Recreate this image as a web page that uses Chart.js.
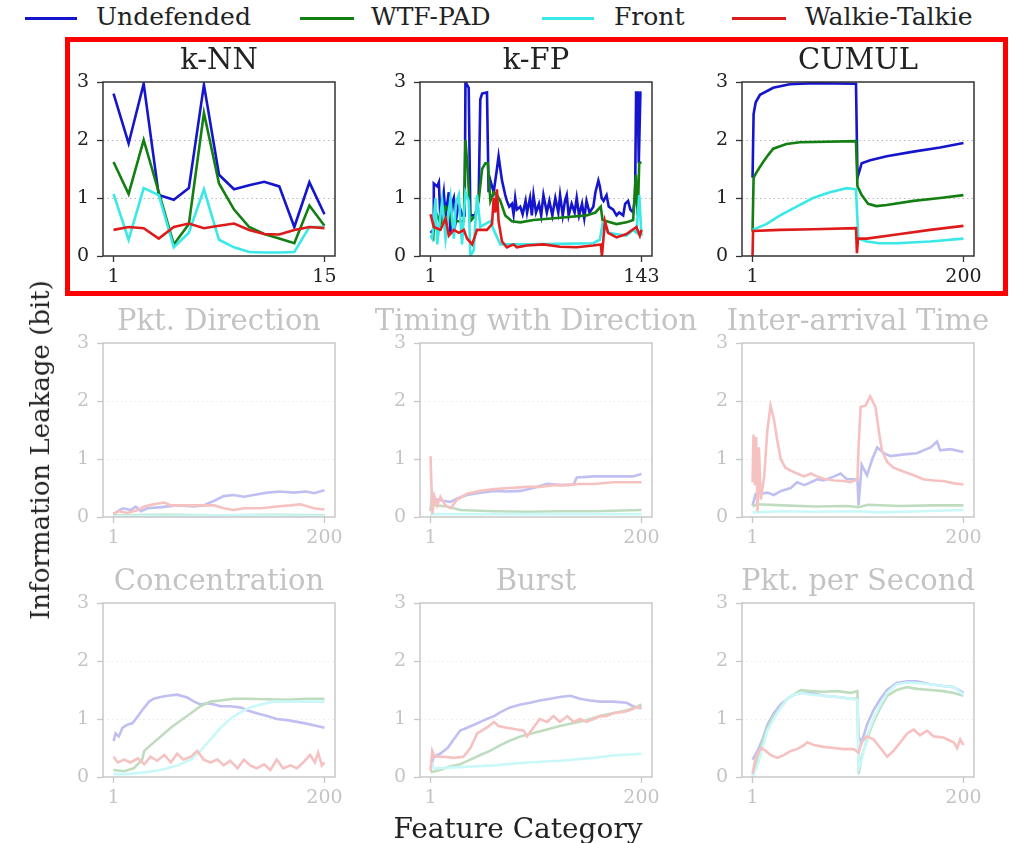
<!DOCTYPE html>
<html>
<head>
<meta charset="utf-8">
<script src="https://cdn.jsdelivr.net/npm/chart.js@4.4.1/dist/chart.umd.min.js"></script>
<style>
  body { margin: 0; background: #fff; }
  #fig { position: relative; width: 1015px; height: 843px; overflow: hidden; font-family: "DejaVu Serif", serif; color: #222; }
  .panel { position: absolute; }
  .faded { opacity: 0.27; }
  .leg { position: absolute; top: 3px; font-size: 25px; line-height: 28px; white-space: nowrap; }
  .legline { position: absolute; top: 17px; height: 3px; }
  #ylabel { position: absolute; left: 40px; top: 450px; font-size: 26px; white-space: nowrap; transform: translate(-50%, -50%) rotate(-90deg); }
  #xlabel { position: absolute; left: 518px; top: 828px; font-size: 28px; white-space: nowrap; transform: translate(-50%, -50%); }
  #frame { position: absolute; left: 65px; top: 37px; width: 933px; height: 249px; border: 5px solid #ff0000; pointer-events: none; }
</style>
</head>
<body>
<div id="fig">
  <div class="legline" style="left:25px;width:52px;background:#1515cc"></div>
  <div class="leg" style="left:96px">Undefended</div>
  <div class="legline" style="left:300px;width:54px;background:#137f13"></div>
  <div class="leg" style="left:371px">WTF-PAD</div>
  <div class="legline" style="left:542px;width:52px;background:#3be8e8"></div>
  <div class="leg" style="left:614px">Front</div>
  <div class="legline" style="left:732px;width:54px;background:#de1b1b"></div>
  <div class="leg" style="left:805px">Walkie-Talkie</div>
  <div id="ylabel">Information Leakage (bit)</div>
  <div id="xlabel">Feature Category</div>
</div>
<script>
const names = ["Undefended", "WTF-PAD", "Front", "Walkie-Talkie"];
const colors = ["#1515cc", "#137f13", "#3be8e8", "#de1b1b"];
const yTicks = [0, 1, 2, 3];

// k-NN: 15 features
const knnX = [1, 2, 3, 4, 5, 6, 7, 8, 9, 10, 11, 12, 13, 14, 15];
const knnUndef = [2.8, 1.94, 2.97, 1.05, 0.97, 1.17, 2.95, 1.4, 1.15, 1.22, 1.28, 1.2, 0.5, 1.27, 0.72];
const knnWtf = [1.62, 1.07, 2.0, 1.1, 0.2, 0.55, 2.47, 1.25, 0.8, 0.5, 0.38, 0.3, 0.22, 0.87, 0.52];
const knnFront = [1.07, 0.28, 1.17, 1.05, 0.15, 0.4, 1.15, 0.28, 0.15, 0.07, 0.06, 0.06, 0.07, 0.5, 0.5];
const knnWT = [0.45, 0.5, 0.48, 0.3, 0.5, 0.56, 0.48, 0.52, 0.56, 0.45, 0.38, 0.37, 0.45, 0.5, 0.48];

// k-FP: 143 features, [feature, bits]
const kfpUndef = [[1,0.4],[2.8,0.45],[3.2,1.25],[5.5,1.2],[6.6,1.27],[7.7,0.6],[8.8,0.9],[9.9,1.1],[11.1,0.7],[13.3,1.1],[14.4,0.4],[15.5,0.9],[16.7,1.0],[18,0.6],[20,0.9],[22.2,0.7],[24,0.7],[24.5,3.0],[25.6,2.95],[26.7,2.9],[27.8,0.7],[31.2,0.7],[33.4,1.0],[34.5,2.7],[35.7,2.8],[39,2.82],[40.1,1.1],[41.3,1.3],[42.4,1.2],[43.5,1.1],[45.7,1.5],[46.8,1.72],[48,1.5],[49.1,1.3],[51.3,1.05],[52.4,0.95],[54,0.85],[55.8,0.9],[56.9,0.72],[58,1.0],[59.1,0.8],[61.4,0.85],[63,0.72],[65,0.95],[66,0.75],[68,1.0],[69.2,0.7],[70.3,1.05],[72,0.75],[74,0.9],[75.5,0.7],[77,1.05],[79.3,0.75],[81,0.95],[83,0.7],[85,1.0],[87,0.75],[88.2,1.05],[90,0.7],[91.5,0.95],[92.7,1.05],[94,0.7],[96,0.9],[98,0.75],[99.4,1.0],[101,0.7],[103,0.9],[104.5,0.65],[106,0.95],[108,0.75],[110.6,0.85],[112,1.1],[114,1.3],[115,1.2],[116.2,1.0],[117.5,0.95],[119.5,1.05],[121,0.85],[124,0.8],[126.2,0.7],[128,0.75],[130.7,0.7],[132,0.9],[134,0.95],[135.5,0.8],[137.4,0.75],[138.7,1.0],[139.4,2.82],[140.5,2.82],[141.2,1.6],[142.3,2.82],[143,2.82]];
const kfpWtf = [[1,0.35],[2.8,0.3],[3.7,0.8],[5.5,0.7],[7.7,0.55],[9.9,0.7],[11.1,0.85],[13.3,0.8],[15.5,0.55],[18,0.6],[21.1,0.6],[23.4,0.6],[24.5,2.0],[26,1.5],[27.8,0.6],[31.2,0.7],[33.4,0.95],[35.7,1.5],[37.9,1.6],[39.5,1.6],[41.3,0.95],[43.5,1.1],[45.7,1.05],[48,0.95],[51.3,0.7],[55.8,0.6],[61.4,0.58],[70.3,0.62],[88.2,0.66],[106,0.7],[112,0.75],[115.6,0.85],[116.8,0.62],[119.5,0.6],[126.2,0.55],[132.9,0.58],[137.4,0.62],[139.2,1.4],[140.5,0.7],[141.5,1.6],[143,1.62]];
const kfpFront = [[1,0.35],[2.1,0.3],[4.4,1.0],[5.5,0.2],[8.8,0.95],[11.1,0.3],[14.4,1.0],[16.7,0.3],[18,0.9],[20,1.05],[22.2,0.2],[24.5,1.1],[26.7,0.95],[27.8,0.0],[30.1,0.1],[32.3,1.05],[34.5,0.5],[41.3,0.6],[43.5,0.45],[48,0.2],[65.8,0.2],[110.6,0.22],[115,0.28],[116.8,0.55],[120.6,0.4],[132.9,0.35],[137.4,0.45],[139.6,0.4],[141.5,1.05],[143,0.35]];
const kfpWT = [[1,0.72],[3.2,0.5],[7.7,0.45],[11.1,0.65],[13.3,0.35],[16.7,0.45],[20,0.4],[23.4,0.45],[25.6,0.3],[29,0.2],[32.3,0.45],[39,0.45],[42.4,0.55],[43.5,1.0],[44.6,0.75],[45.7,1.15],[46.8,0.6],[49.1,0.25],[52.4,0.15],[56.9,0.2],[59.1,0.15],[65.8,0.18],[77,0.2],[88.2,0.16],[99.4,0.15],[110.6,0.18],[115.6,0.2],[116.4,0.0],[118.4,0.6],[120.6,0.4],[126.2,0.32],[132.9,0.38],[139.6,0.5],[141.9,0.35],[143,0.45]];

// CUMUL: 200 features
const cumulUndef = [[1,1.35],[2,2.45],[4,2.65],[8,2.78],[20.5,2.9],[36,2.96],[58,2.98],[98.6,2.97],[100,1.35],[104,1.6],[112,1.65],[127.6,1.72],[152.8,1.8],[178,1.87],[200,1.95]];
const cumulWtf = [[1,0.42],[2,1.35],[5,1.45],[11,1.62],[15.7,1.74],[20.5,1.85],[33,1.93],[45.7,1.96],[98.6,1.98],[100,1.2],[104,1.05],[110,0.9],[118,0.86],[127.6,0.88],[152.8,0.95],[178,1.0],[200,1.05]];
const cumulFront = [[1,0.45],[14,0.55],[27,0.7],[42.6,0.85],[58,1.0],[74,1.1],[90,1.17],[98.6,1.15],[100.8,0.3],[108.7,0.25],[121,0.22],[137,0.22],[168.5,0.25],[200,0.3]];
const cumulWT = [[1,0.0],[1.5,0.43],[27,0.45],[58,0.46],[98.6,0.48],[99.5,0.05],[100.5,0.3],[108.7,0.3],[137,0.37],[168.5,0.45],[200,0.52]];

// Pkt. Direction
const pdUndef = [[1,0.05],[5,0.1],[10,0.15],[17,0.12],[22,0.18],[27,0.1],[33,0.15],[46,0.17],[61,0.2],[77,0.18],[86,0.2],[96,0.28],[105,0.36],[114,0.38],[124,0.35],[133,0.38],[146,0.42],[158,0.44],[171,0.42],[183,0.44],[190,0.41],[200,0.46]];
const pdWtf = [[1,0.03],[50,0.04],[100,0.03],[150,0.04],[200,0.03]];
const pdFront = [[1,0.02],[60,0.02],[120,0.03],[200,0.02]];
const pdWT = [[1,0.05],[6,0.1],[14,0.07],[24,0.12],[30,0.18],[39,0.22],[49,0.25],[55,0.2],[64,0.2],[77,0.2],[86,0.2],[96,0.2],[105,0.15],[114,0.12],[124,0.15],[140,0.15],[155,0.18],[168,0.2],[177,0.22],[190,0.15],[200,0.13]];

// Timing with Direction
const twdUndef = [[1,0.1],[2.6,0.3],[7,0.3],[13,0.28],[20,0.26],[26,0.32],[35.5,0.38],[48,0.42],[61,0.45],[73,0.44],[86,0.45],[98,0.5],[111,0.57],[124,0.55],[136,0.56],[139,0.68],[155,0.7],[173,0.7],[192,0.7],[200,0.74]];
const twdWtf = [[1,0.1],[2.6,0.42],[5.7,0.2],[16.7,0.18],[29,0.12],[61,0.1],[92,0.09],[124,0.1],[155,0.1],[200,0.12]];
const twdFront = [[1,0.0],[2,0.05],[100,0.05],[200,0.05]];
const twdWT = [[1,1.05],[2.6,0.05],[4.8,0.35],[7.3,0.2],[10.4,0.35],[15,0.2],[20,0.15],[26,0.3],[35.5,0.4],[48,0.45],[61,0.48],[76,0.5],[92,0.52],[104,0.52],[117,0.55],[130,0.55],[142,0.57],[155,0.57],[173,0.6],[200,0.6]];

// Inter-arrival Time
const iatUndef = [[1,0.2],[4,0.4],[9,0.4],[15,0.42],[21,0.38],[28,0.45],[37,0.5],[43,0.6],[50,0.55],[56,0.6],[62,0.65],[68,0.63],[78,0.7],[84,0.75],[90,0.65],[100,0.65],[101,0.2],[104,0.9],[109,0.72],[114,1.0],[118.6,1.2],[125,1.1],[131,1.05],[144,1.08],[156,1.1],[169,1.2],[175,1.3],[178,1.15],[187.5,1.17],[200,1.12]];
const iatWtf = [[1,0.18],[5,0.22],[30,0.2],[60,0.18],[90,0.19],[101,0.17],[110,0.21],[140,0.19],[170,0.2],[200,0.2]];
const iatFront = [[1,0.08],[30,0.1],[60,0.09],[100,0.1],[120,0.08],[160,0.1],[200,0.12]];
const iatWT = [[1,0.6],[1.9,1.42],[3.2,0.55],[4.4,1.38],[5.7,0.1],[7,1.2],[8.8,0.3],[12,0.7],[15,1.5],[18,1.92],[21,1.7],[24.5,1.3],[27.6,1.0],[32,0.85],[37,0.8],[43,0.75],[49.6,0.7],[56,0.75],[62,0.7],[68,0.66],[78,0.63],[87,0.62],[93.5,0.6],[100,0.65],[101,1.2],[103,1.9],[107.6,1.92],[112,2.08],[117,1.9],[120,1.5],[123,1.15],[128,0.95],[134,0.85],[144,0.78],[153,0.72],[162,0.65],[172,0.63],[181,0.62],[191,0.58],[200,0.56]];

// Concentration
const concUndef = [[1,0.62],[3,0.75],[6,0.7],[9.5,0.85],[14,0.9],[19,0.93],[24,1.05],[28,1.15],[34.5,1.3],[39,1.35],[45.5,1.38],[52,1.4],[61,1.42],[70.6,1.37],[77,1.3],[83,1.25],[89,1.27],[96,1.25],[102,1.22],[111,1.22],[121,1.2],[127,1.15],[136,1.1],[146,1.05],[155,1.0],[165,0.98],[174,0.95],[183,0.92],[193,0.88],[200,0.85]];
const concWtf = [[1,0.12],[11,0.1],[20,0.15],[28,0.3],[30,0.45],[36,0.55],[45.5,0.7],[55,0.85],[64,0.97],[74,1.1],[83,1.22],[92.5,1.3],[102,1.32],[114,1.35],[127,1.35],[146,1.34],[165,1.33],[183,1.35],[200,1.35]];
const concFront = [[1,0.05],[14,0.05],[30,0.08],[45.5,0.12],[61,0.2],[74,0.3],[83,0.45],[92.5,0.65],[102,0.85],[111,1.0],[121,1.12],[130,1.2],[140,1.25],[152,1.3],[171,1.3],[190,1.3],[200,1.3]];
const concWT = [[1,0.35],[5,0.25],[11,0.3],[17,0.25],[24,0.32],[30,0.22],[36,0.35],[42,0.28],[49,0.38],[55,0.25],[61,0.4],[67,0.3],[74,0.35],[80,0.45],[86,0.3],[92.5,0.25],[99,0.3],[105,0.2],[111,0.28],[118,0.15],[124,0.3],[130,0.2],[136,0.15],[143,0.22],[149,0.12],[155,0.3],[161,0.15],[168,0.2],[174,0.15],[180,0.25],[186.5,0.38],[191,0.25],[194,0.42],[197.5,0.2],[200,0.25]];

// Burst
const burstUndef = [[1,0.15],[4,0.35],[10,0.4],[17,0.5],[23,0.65],[29,0.8],[35.5,0.85],[42,0.9],[48,0.95],[54,1.0],[61,1.05],[67,1.12],[76,1.2],[86,1.25],[95,1.28],[104,1.32],[114,1.35],[123,1.38],[133,1.4],[142,1.35],[151.5,1.32],[161,1.3],[173,1.3],[186,1.28],[192,1.22],[200,1.18]];
const burstWtf = [[1,0.08],[10,0.12],[19,0.18],[29,0.22],[38.6,0.3],[48,0.38],[57,0.45],[67,0.55],[76,0.63],[86,0.7],[98,0.76],[111,0.82],[123,0.88],[136,0.93],[148,0.98],[161,1.05],[173,1.1],[186,1.15],[195,1.2],[200,1.25]];
const burstFront = [[1,0.3],[4,0.15],[29,0.17],[61,0.2],[92,0.25],[123,0.28],[155,0.33],[173,0.37],[200,0.4]];
const burstWT = [[1,0.1],[2.6,0.45],[4.8,0.35],[13.5,0.35],[23,0.33],[32,0.35],[38.6,0.5],[45,0.75],[54,0.85],[61,0.95],[65,0.88],[73,0.85],[82.5,0.82],[89,0.8],[92,0.7],[98,0.85],[104,1.0],[111,0.95],[117,1.05],[123,0.95],[130,1.05],[136,0.95],[142,1.0],[148,0.95],[155,1.0],[161,1.05],[167,1.05],[173,1.1],[183,1.12],[189,1.15],[195,1.2],[200,1.2]];

// Pkt. per Second (first three series share the same feature positions)
const ppsX = [1, 5.7, 10.4, 15, 21, 27.6, 34, 40, 46.5, 56, 68, 81, 93.5, 100, 101, 104, 109, 115, 121.7, 128, 137, 147, 156, 169, 181, 190.7, 200];
const ppsUndef = [0.3, 0.45, 0.65, 0.9, 1.1, 1.25, 1.35, 1.42, 1.45, 1.45, 1.4, 1.38, 1.35, 1.35, 0.7, 0.6, 0.9, 1.15, 1.35, 1.5, 1.62, 1.65, 1.65, 1.6, 1.57, 1.55, 1.45];
const ppsWtf = [0.0, 0.3, 0.6, 0.85, 1.05, 1.2, 1.35, 1.42, 1.5, 1.48, 1.47, 1.48, 1.45, 1.48, 0.05, 0.35, 0.65, 0.95, 1.2, 1.4, 1.5, 1.55, 1.52, 1.5, 1.48, 1.45, 1.4];
const ppsFront = [0.0, 0.2, 0.5, 0.8, 1.0, 1.2, 1.35, 1.42, 1.45, 1.42, 1.4, 1.38, 1.35, 1.33, 0.15, 0.3, 0.7, 1.0, 1.25, 1.45, 1.6, 1.63, 1.62, 1.6, 1.57, 1.55, 1.42];
const ppsWT = [[1,0.05],[4,0.35],[9,0.5],[13.5,0.45],[18,0.38],[24.5,0.33],[31,0.38],[37,0.45],[43,0.48],[49.6,0.55],[52.7,0.6],[59,0.55],[68,0.52],[78,0.5],[87,0.48],[96.6,0.48],[101,0.42],[104,0.6],[109,0.7],[115,0.65],[121.7,0.5],[128,0.35],[134,0.45],[140.5,0.6],[147,0.75],[153,0.82],[159,0.72],[165.6,0.8],[172,0.7],[181,0.68],[190.7,0.6],[194,0.5],[197,0.65],[200,0.55]];

const zip = (xs, ys) => xs.map((x, i) => ({ x: x, y: ys[i] }));
const pts = (a) => a.map((p) => ({ x: p[0], y: p[1] }));

const panels = [
  { title: "k-NN", n: 15, series: [zip(knnX, knnUndef), zip(knnX, knnWtf), zip(knnX, knnFront), zip(knnX, knnWT)] },
  { title: "k-FP", n: 143, series: [pts(kfpUndef), pts(kfpWtf), pts(kfpFront), pts(kfpWT)] },
  { title: "CUMUL", n: 200, series: [pts(cumulUndef), pts(cumulWtf), pts(cumulFront), pts(cumulWT)] },
  { title: "Pkt. Direction", n: 200, series: [pts(pdUndef), pts(pdWtf), pts(pdFront), pts(pdWT)] },
  { title: "Timing with Direction", n: 200, series: [pts(twdUndef), pts(twdWtf), pts(twdFront), pts(twdWT)] },
  { title: "Inter-arrival Time", n: 200, series: [pts(iatUndef), pts(iatWtf), pts(iatFront), pts(iatWT)] },
  { title: "Concentration", n: 200, series: [pts(concUndef), pts(concWtf), pts(concFront), pts(concWT)] },
  { title: "Burst", n: 200, series: [pts(burstUndef), pts(burstWtf), pts(burstFront), pts(burstWT)] },
  { title: "Pkt. per Second", n: 200, series: [zip(ppsX, ppsUndef), zip(ppsX, ppsWtf), zip(ppsX, ppsFront), pts(ppsWT)] },
];

// plot-box placement of the 3x3 grid
const boxLeft = [103, 420, 742];
const boxTop = [82, 343, 603];
const boxW = 232, boxH = 174;
// equal side margins (left axis + empty right axis) so the title centres over the plot box
const axisW = 50, titleH = 45, axisH = 36;

Chart.defaults.font.family = "'DejaVu Serif', serif";

// draws the full frame around the plot area (matplotlib spines)
const frame = {
  id: "frame",
  afterDatasetsDraw(chart) {
    const { ctx, chartArea: a } = chart;
    ctx.save();
    ctx.strokeStyle = "#333";
    ctx.lineWidth = 1.5;
    ctx.strokeRect(a.left, a.top, a.right - a.left, a.bottom - a.top);
    ctx.restore();
  },
};

const fig = document.getElementById("fig");

panels.forEach((p, i) => {
  const col = i % 3, row = Math.floor(i / 3);
  const cv = document.createElement("canvas");
  cv.className = "panel" + (row > 0 ? " faded" : "");
  cv.width = axisW + boxW + axisW;
  cv.height = titleH + boxH + axisH;
  cv.style.left = (boxLeft[col] - axisW) + "px";
  cv.style.top = (boxTop[row] - titleH) + "px";
  fig.insertBefore(cv, document.getElementById("ylabel"));

  const margin = 0.05 * (p.n - 1);
  new Chart(cv, {
    type: "line",
    data: {
      datasets: p.series.map((d, k) => ({
        label: names[k],
        data: d,
        borderColor: colors[k],
        borderWidth: 2.6,
        pointRadius: 0,
        tension: 0,
        order: 3 - k, // later series on top
      })),
    },
    options: {
      responsive: false,
      animation: false,
      events: [],
      layout: { padding: 0 },
      plugins: {
        legend: { display: false },
        tooltip: { enabled: false },
        title: {
          display: true,
          text: p.title,
          color: "#222",
          font: { size: 29, weight: "normal" },
          padding: { top: 7, bottom: 3.2 },
        },
      },
      scales: {
        x: {
          type: "linear",
          min: 1 - margin,
          max: p.n + margin,
          afterBuildTicks: (s) => { s.ticks = [{ value: 1 }, { value: p.n }]; },
          afterFit: (s) => { s.height = axisH; },
          grid: { drawOnChartArea: false, tickLength: 6, color: "#333", tickColor: "#333", tickWidth: 1.3 },
          border: { display: false },
          ticks: { color: "#222", font: { size: 19 }, padding: 4, maxRotation: 0, autoSkip: false },
        },
        y: {
          min: 0,
          max: 3,
          afterBuildTicks: (s) => { s.ticks = yTicks.map((v) => ({ value: v })); },
          afterFit: (s) => { s.width = axisW; },
          grid: {
            color: (c) => (c.tick && (c.tick.value === 1 || c.tick.value === 2) ? "#b8b8b8" : "rgba(0,0,0,0)"),
            lineWidth: 1,
            tickLength: 6,
            tickColor: "#333",
            tickWidth: 1.3,
          },
          border: { display: false, dash: [1.5, 3] },
          ticks: { color: "#222", font: { size: 19 }, padding: 8 },
        },
        yRight: {
          type: "linear",
          position: "right",
          min: 0,
          max: 3,
          afterFit: (s) => { s.width = axisW; },
          grid: { display: false, drawTicks: false },
          border: { display: false },
          ticks: { display: false },
        },
      },
    },
    plugins: [frame],
  });
});
</script>
<div id="frame"></div>
</body>
</html>
